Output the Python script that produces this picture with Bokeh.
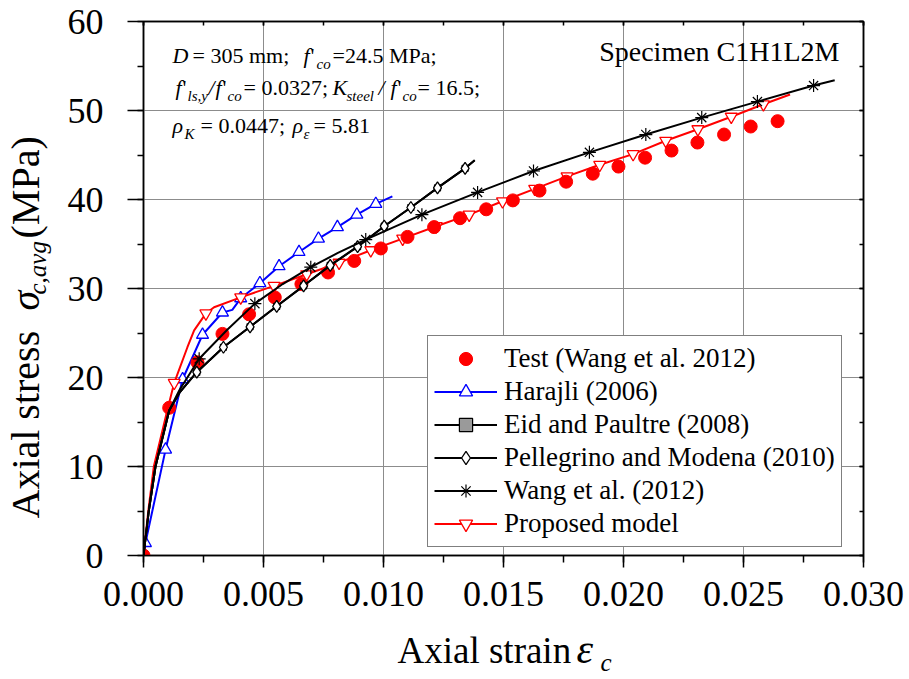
import math
from bokeh.plotting import figure
from bokeh.layouts import row, column
from bokeh.models import (Range1d, SingleIntervalTicker, LinearAxis, NumeralTickFormatter,
                          Legend, LegendItem, Label, CustomJSTickFormatter)
from bokeh.embed import file_html
from bokeh.resources import INLINE

# ---------------- data (strain, stress MPa) ----------------
test_x = [0, 0.00107, 0.00225, 0.00329, 0.00440, 0.00547, 0.00658, 0.00769, 0.00878, 0.00989,
          0.0110, 0.01211, 0.01319, 0.01428, 0.01539, 0.0165, 0.01761, 0.01872, 0.01979, 0.0209,
          0.0220, 0.02308, 0.02419, 0.0253, 0.02642]
test_y = [0, 16.6, 21.7, 24.9, 27.1, 29.0, 30.5, 31.8, 33.1, 34.5,
          35.8, 36.9, 37.9, 38.9, 39.9, 41.0, 42.0, 42.9, 43.7, 44.7,
          45.5, 46.4, 47.3, 48.2, 48.8]

harajli_x = [0, 0.00008, 0.00092, 0.00163, 0.00246, 0.00329, 0.0037, 0.00405, 0.00485, 0.00565,
             0.00648, 0.00729, 0.00808, 0.00889, 0.00968, 0.01037]
harajli_y = [0, 1.4, 11.9, 19.8, 24.8, 27.3, 27.6, 28.9, 30.6, 32.5,
             34.1, 35.6, 36.9, 38.3, 39.5, 40.35]
harajli_mx = [0.00008, 0.00092, 0.00163, 0.00246, 0.00329, 0.00405, 0.00485, 0.00565,
              0.00648, 0.00729, 0.00808, 0.00889, 0.00968]
harajli_my = [1.4, 11.9, 19.8, 24.8, 27.3, 28.9, 30.6, 32.5, 34.1, 35.6, 36.9, 38.3, 39.5]

# Eid and Paultre (2008): not distinguishable in the figure (lies under the Pellegrino curve)
eid_x = [0, 0.00022, 0.0005, 0.00107, 0.0015, 0.00222, 0.00333, 0.00444, 0.00555, 0.00667,
         0.00778, 0.00892, 0.01003, 0.01114, 0.01225, 0.0134, 0.0138]
eid_y = [0, 5.0, 10.0, 16.3, 18.3, 20.6, 23.4, 25.7, 28.0, 30.3,
         32.6, 34.7, 37.0, 39.1, 41.3, 43.5, 44.4]
eid_mx = [0.00222, 0.00333, 0.00444, 0.00555, 0.00667, 0.00778, 0.00892, 0.01003, 0.01114,
          0.01225, 0.0134]
eid_my = [20.6, 23.4, 25.7, 28.0, 30.3, 32.6, 34.7, 37.0, 39.1, 41.3, 43.5]

pell_x = [0, 0.00022, 0.0005, 0.00107, 0.0015, 0.00222, 0.00333, 0.00444, 0.00555, 0.00667,
          0.00778, 0.00892, 0.01003, 0.01114, 0.01225, 0.0134, 0.0138]
pell_y = [0, 5.0, 10.0, 16.3, 18.3, 20.6, 23.4, 25.7, 28.0, 30.3,
          32.6, 34.7, 37.0, 39.1, 41.3, 43.5, 44.4]
pell_mx = [0.00222, 0.00333, 0.00444, 0.00555, 0.00667, 0.00778, 0.00892, 0.01003, 0.01114,
           0.01225, 0.0134]
pell_my = [20.6, 23.4, 25.7, 28.0, 30.3, 32.6, 34.7, 37.0, 39.1, 41.3, 43.5]

wang_x = [0, 0.00022, 0.0005, 0.00107, 0.0015, 0.00232, 0.0035, 0.00464, 0.0058, 0.00697,
          0.0081, 0.00926, 0.0116, 0.01392, 0.01625, 0.01858, 0.02093, 0.02326, 0.02558,
          0.02792, 0.0288]
wang_y = [0, 5.0, 10.0, 16.3, 18.6, 22.1, 25.4, 28.3, 30.5, 32.4,
          34.0, 35.5, 38.3, 40.8, 43.2, 45.3, 47.3, 49.2, 51.0,
          52.8, 53.4]
wang_mx = [0.00232, 0.00464, 0.00697, 0.00926, 0.0116, 0.01392, 0.01625, 0.01858, 0.02093,
           0.02326, 0.02558, 0.02792]
wang_my = [22.1, 28.3, 32.4, 35.5, 38.3, 40.8, 43.2, 45.3, 47.3, 49.2, 51.0, 52.8]

prop_x = [0, 0.0002, 0.00043, 0.001, 0.00128, 0.00183, 0.00211, 0.0026, 0.00294, 0.00405,
          0.00544, 0.0068, 0.00815, 0.00947, 0.0108, 0.0122, 0.01357, 0.01496, 0.0163,
          0.01765, 0.01901, 0.0204, 0.02176, 0.0231, 0.02449, 0.02583, 0.02694]
prop_y = [0, 5.0, 10.0, 16.4, 19.4, 23.4, 25.3, 27.2, 27.9, 29.0,
          30.3, 31.6, 32.9, 34.3, 35.6, 37.0, 38.3, 39.8, 41.2,
          42.6, 43.9, 45.1, 46.6, 47.9, 49.3, 50.7, 51.8]
prop_mx = [0.00128, 0.0026, 0.00405, 0.00544, 0.0068, 0.00815, 0.00947, 0.0108, 0.0122,
           0.01357, 0.01496, 0.0163, 0.01765, 0.01901, 0.0204, 0.02176, 0.0231, 0.02449, 0.02583]
prop_my = [19.4, 27.2, 29.0, 30.3, 31.6, 32.9, 34.3, 35.6, 37.0,
           38.3, 39.8, 41.2, 42.6, 43.9, 45.1, 46.6, 47.9, 49.3, 50.7]

legend_labels = ["Test (Wang et al. 2012)", "Harajli (2006)", "Eid and Paultre (2008)",
                 "Pellegrino and Modena (2010)", "Wang et al. (2012)", "Proposed model"]

FONT = "Liberation Serif, Times New Roman, DejaVu Serif, serif"

W, H = 909, 679
LW = 60          # width of the y-title strip
MH = 625         # height of main row
FL, FB = 143, 555  # frame left / bottom in page px

p = figure(width=W - LW, height=MH, x_range=Range1d(0, 0.03), y_range=Range1d(0, 60),
           output_backend="svg", toolbar_location=None,
           min_border_left=FL - LW, min_border_right=46, min_border_top=21,
           min_border_bottom=MH - FB)
p.background_fill_color = "white"
p.border_fill_color = "white"
p.outline_line_color = "black"
p.outline_line_width = 1.5

xt = SingleIntervalTicker(interval=0.005, num_minor_ticks=2)
yt = SingleIntervalTicker(interval=10, num_minor_ticks=2)

xa = p.xaxis[0]
xa.ticker = xt
xa.formatter = NumeralTickFormatter(format="0.000")
ya = p.yaxis[0]
ya.ticker = yt
for ax in (xa, ya):
    ax.major_label_text_font = FONT
    ax.major_label_text_font_size = "36px"
    ax.major_label_text_color = "black"
    ax.axis_line_color = "black"
    ax.axis_line_width = 1.5
    ax.major_tick_line_color = "black"
    ax.minor_tick_line_color = "black"
    ax.major_tick_line_width = 1.5
    ax.minor_tick_line_width = 1.5
    ax.major_tick_in = 0
    ax.minor_tick_in = 0
xa.major_tick_out = 12
xa.minor_tick_out = 7
xa.major_label_standoff = 14
ya.major_tick_out = 16
ya.minor_tick_out = 6
ya.major_label_standoff = 24

top = LinearAxis(ticker=SingleIntervalTicker(interval=0.005, num_minor_ticks=2),
                 formatter=CustomJSTickFormatter(code="return ''"),
                 major_tick_in=4, major_tick_out=0, minor_tick_in=4, minor_tick_out=0,
                 major_label_text_font_size="1px", major_label_standoff=0,
                 axis_line_width=1.5, major_tick_line_width=1.5, minor_tick_line_width=1.5)
p.add_layout(top, "above")
right = LinearAxis(ticker=SingleIntervalTicker(interval=10, num_minor_ticks=2),
                   formatter=CustomJSTickFormatter(code="return ''"),
                   major_tick_in=4, major_tick_out=0, minor_tick_in=4, minor_tick_out=0,
                   major_label_text_font_size="1px", major_label_standoff=0,
                   axis_line_width=1.5, major_tick_line_width=1.5, minor_tick_line_width=1.5)
p.add_layout(right, "right")

p.xgrid.ticker = xt
p.ygrid.ticker = yt
p.grid.grid_line_color = "#8c8c8c"
p.grid.grid_line_width = 1

# ---------------- series ----------------
h_line = p.line(harajli_x, harajli_y, line_color="blue", line_width=2)
h_mark = p.scatter(harajli_mx, harajli_my, marker="triangle", size=12, line_color="blue",
                   fill_color="white", line_width=1.3)

pr_line = p.line(prop_x, prop_y, line_color="red", line_width=2)
pr_mark = p.scatter(prop_mx, prop_my, marker="inverted_triangle", size=12, line_color="red",
                    fill_color="white", line_width=1.3)

t_mark = p.scatter(test_x, test_y, marker="circle", size=13, fill_color="red", line_color="red")

e_line = p.line(eid_x, eid_y, line_color="black", line_width=2)
e_mark = p.scatter(eid_mx, eid_my, marker="square", size=6, line_color="black",
                   fill_color="#9a9a9a", line_width=1.2)

pe_line = p.line(pell_x, pell_y, line_color="black", line_width=2)
pe_mark = p.scatter(pell_mx, pell_my, marker="diamond", size=12,
                    line_color="black", fill_color="white", line_width=1.3)

w_line = p.line(wang_x, wang_y, line_color="black", line_width=2)
w_mark = p.scatter(wang_mx, wang_my, marker="asterisk", size=13, line_color="black",
                   line_width=1.2)

items = [
    LegendItem(label=legend_labels[0], renderers=[t_mark]),
    LegendItem(label=legend_labels[1], renderers=[h_line, h_mark]),
    LegendItem(label=legend_labels[2], renderers=[e_line, e_mark]),
    LegendItem(label=legend_labels[3], renderers=[pe_line, pe_mark]),
    LegendItem(label=legend_labels[4], renderers=[w_line, w_mark]),
    LegendItem(label=legend_labels[5], renderers=[pr_line, pr_mark]),
]
legend = Legend(items=items, location=(427 - FL, FB - 547),
                label_text_font=FONT, label_text_font_size="27px", label_text_color="black",
                glyph_width=63, glyph_height=33, label_height=33, spacing=0,
                padding=6, margin=0, label_standoff=7,
                border_line_color="black", border_line_width=1.2,
                background_fill_color="white", background_fill_alpha=1.0)
p.add_layout(legend)


# ---------------- helper figures for axis titles ----------------
def strip(w, h):
    f = figure(width=w, height=h, x_range=Range1d(0, 1), y_range=Range1d(0, 1),
               x_axis_type=None, y_axis_type=None, output_backend="svg",
               toolbar_location=None, min_border=0, min_border_left=0, min_border_right=0,
               min_border_top=0, min_border_bottom=0)
    f.outline_line_color = None
    f.background_fill_color = "white"
    f.border_fill_color = "white"
    f.grid.visible = False
    return f


ylab = strip(LW, MH)
xlab = strip(W, H - MH)

UP = 0.33  # baseline correction (fraction of font size) for horizontal labels


def txt(fig, s, lx, ly, fh, size, italic=False, angle=0.0, align="left"):
    """lx, ly: baseline position in px from the top-left of fig (fh = fig height)."""
    if angle == 0.0:
        ly = ly - UP * size
    fig.add_layout(Label(x=lx, y=fh - ly, x_units="screen", y_units="screen", text=s,
                         text_font=FONT, text_font_size=f"{size}px",
                         text_font_style="italic" if italic else "normal",
                         text_color="black", text_baseline="alphabetic", text_align=align,
                         angle=angle))


def ptxt(s, cx, cy, size, italic=False, align="left"):
    cy = cy - UP * size
    p.add_layout(Label(x=cx - FL, y=FB - cy, x_units="screen", y_units="screen", text=s,
                       text_font=FONT, text_font_size=f"{size}px",
                       text_font_style="italic" if italic else "normal",
                       text_color="black", text_baseline="alphabetic", text_align=align))


# x axis title (page y offset MH)
XH = H - MH
txt(xlab, "Axial strain", 397, 662 - MH, XH, 37)
txt(xlab, "ε", 576, 662 - MH, XH, 42, italic=True)
txt(xlab, "c", 600, 670 - MH, XH, 25, italic=True)

# y axis title (rotated); offsets compensate the rotated-anchor placement
R = math.pi / 2
DY, DX = 78, -13
txt(ylab, "Axial stress", 38 + DX, 510 + DY, MH, 40, angle=R)
txt(ylab, "σ", 38 + DX, 302 + DY, MH, 40, italic=True, angle=R)
txt(ylab, "c,avg", 50 + DX, 286 + DY, MH, 25, italic=True, angle=R)
txt(ylab, "(MPa)", 38 + DX, 230 + DY, MH, 40, angle=R)

# specimen
ptxt("Specimen C1H1L2M", 839, 60, 28, align="right")

# parameters block
F, S = 22, 15
b1, b2, b3 = 62, 94, 132
ptxt("D", 172, b1, F, italic=True)
ptxt("= 305 mm;", 192, b1, F)
ptxt("f", 303, b1, F, italic=True)
ptxt("'", 310, b1, F)
ptxt("co", 316, b1 + 6, S, italic=True)
ptxt("=24.5 MPa;", 332, b1, F)

ptxt("f", 175, b2, F, italic=True)
ptxt("'", 182, b2, F)
ptxt("ls,y", 187, b2 + 6, S, italic=True)
ptxt("/", 208, b2, F, italic=True)
ptxt("f", 215, b2, F, italic=True)
ptxt("'", 222, b2, F)
ptxt("co", 227, b2 + 6, S, italic=True)
ptxt("= 0.0327;", 243, b2, F)
ptxt("K", 332, b2, F, italic=True)
ptxt("steel", 346, b2 + 6, S, italic=True)
ptxt("/", 378, b2, F, italic=True)
ptxt("f", 390, b2, F, italic=True)
ptxt("'", 397, b2, F)
ptxt("co", 402, b2 + 6, S, italic=True)
ptxt("= 16.5;", 417, b2, F)

ptxt("ρ", 172, b3, F, italic=True)
ptxt("K", 184, b3 + 6, S, italic=True)
ptxt("= 0.0447;", 200, b3, F)
ptxt("ρ", 292, b3, F, italic=True)
ptxt("ε", 303, b3 + 6, S, italic=True)
ptxt("=  5.81", 313, b3, F)

layout = column(row(ylab, p, spacing=0), xlab, spacing=0)
open("out.html", "w").write(file_html(layout, INLINE))
